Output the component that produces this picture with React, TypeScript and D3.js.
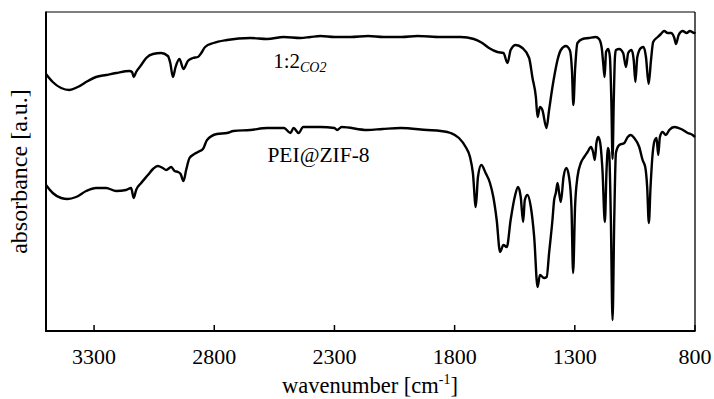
import { useEffect } from 'react'
import * as d3 from 'd3'

// spectrum 1:2 CO2 (upper trace): wavenumber [cm-1] / absorbance [a.u.]
const co2Wn = [3500, 3472, 3437, 3403, 3368, 3326, 3292, 3250, 3208, 3153, 3142, 3135, 3125, 3104, 3083, 3055, 3021, 2993, 2983, 2972, 2961, 2945, 2928, 2910, 2889, 2868, 2854, 2838, 2803, 2747, 2650, 2580, 2511, 2442, 2400, 2358, 2300, 2233, 2160, 2096, 2020, 1955, 1858, 1775, 1720, 1685, 1657, 1622, 1597, 1580, 1567, 1546, 1518, 1490, 1476, 1462, 1455, 1445, 1435, 1418, 1407, 1393, 1383, 1372, 1358, 1337, 1321, 1312, 1306, 1299, 1289, 1268, 1241, 1213, 1199, 1188, 1182, 1176, 1170, 1161, 1154, 1148, 1143, 1138, 1133, 1129, 1115, 1099, 1087, 1078, 1064, 1055, 1048, 1040, 1025, 1014, 1004, 993, 983, 974, 955, 942, 928, 914, 900, 886, 879, 868, 851, 835, 821, 803, 800]
const co2Abs = [257, 249, 243, 241, 244, 250, 254, 256, 258, 260, 259, 254, 259, 266, 273, 277, 278, 275, 268, 254, 264, 272, 262, 270, 273, 274, 278, 284, 288, 291, 293, 292, 294, 293, 294, 295, 294, 294, 295, 294, 294, 295, 294, 294, 292, 288, 283, 279, 278, 268, 281, 286, 283, 273, 253, 234, 214, 224, 221, 203, 221, 244, 258, 271, 281, 285, 281, 261, 226, 261, 288, 292, 293, 294, 292, 283, 268, 254, 279, 282, 274, 230, 172, 230, 274, 281, 282, 278, 264, 278, 281, 271, 249, 274, 283, 284, 274, 247, 271, 289, 294, 297, 300, 298, 298, 293, 287, 296, 300, 298, 300, 298, 299]

// spectrum PEI@ZIF-8 (lower trace)
const zifWn = [3500, 3472, 3437, 3410, 3375, 3333, 3292, 3250, 3208, 3167, 3146, 3135, 3125, 3104, 3076, 3055, 3035, 3014, 3000, 2979, 2965, 2951, 2940, 2928, 2917, 2903, 2889, 2868, 2847, 2830, 2789, 2747, 2720, 2650, 2580, 2510, 2483, 2470, 2449, 2430, 2358, 2300, 2289, 2270, 2164, 2100, 2025, 1914, 1858, 1817, 1782, 1754, 1736, 1724, 1712, 1703, 1689, 1671, 1653, 1639, 1625, 1611, 1597, 1583, 1567, 1550, 1536, 1525, 1515, 1508, 1497, 1483, 1469, 1455, 1445, 1428, 1417, 1407, 1393, 1386, 1379, 1372, 1365, 1358, 1347, 1335, 1324, 1314, 1307, 1299, 1289, 1275, 1261, 1247, 1233, 1224, 1217, 1210, 1203, 1195, 1185, 1175, 1168, 1162, 1157, 1150, 1143, 1136, 1129, 1115, 1094, 1080, 1067, 1053, 1032, 1018, 1007, 999, 992, 985, 976, 967, 960, 953, 946, 935, 921, 907, 886, 858, 830, 810, 800]
const zifAbs = [146, 138, 133, 132, 134, 140, 143, 143, 140, 141, 143, 133, 141, 148, 156, 162, 165, 163, 161, 164, 160, 159, 157, 150, 161, 173, 176, 179, 182, 191, 197, 198, 200, 201, 203, 203, 198, 203, 198, 204, 204, 203, 201, 204, 201, 202, 203, 201, 200, 198, 193, 184, 174, 158, 124, 154, 166, 158, 148, 134, 111, 79, 86, 84, 111, 134, 144, 134, 109, 131, 136, 124, 94, 44, 56, 53, 54, 78, 111, 131, 138, 148, 138, 129, 154, 163, 154, 124, 58, 124, 154, 168, 174, 179, 184, 179, 171, 188, 194, 189, 161, 109, 161, 183, 178, 111, 11, 111, 178, 186, 188, 194, 196, 193, 184, 171, 164, 144, 108, 144, 178, 191, 193, 176, 194, 199, 196, 201, 204, 202, 198, 196, 194]

const xTicks = [3300, 2800, 2300, 1800, 1300, 800]

const W = 714
const H = 399
const margin = { top: 12, right: 19, bottom: 68, left: 46 }
const font = "'Liberation Serif', 'Times New Roman', 'DejaVu Serif', serif"

export default function App() {
  useEffect(() => {
    document.body.style.margin = '0'
  }, [])

  const x = d3.scaleLinear().domain([3500, 800]).range([margin.left, W - margin.right])
  const y = d3.scaleLinear().domain([0, 319]).range([H - margin.bottom, margin.top])

  const line = d3.line<[number, number]>()
    .x(d => x(d[0]))
    .y(d => y(d[1]))
    .curve(d3.curveMonotoneX)

  const co2 = co2Wn.map((w, i) => [w, co2Abs[i]] as [number, number])
  const zif = zifWn.map((w, i) => [w, zifAbs[i]] as [number, number])

  const x0 = margin.left
  const x1 = W - margin.right
  const y0 = margin.top
  const y1 = H - margin.bottom

  return (
    <svg width={W} height={H} style={{ display: 'block', background: '#fff', fontFamily: font }}>
      <path d={line(co2) || ''} fill="none" stroke="#000" strokeWidth={2.4} strokeLinejoin="round" />
      <path d={line(zif) || ''} fill="none" stroke="#000" strokeWidth={2.4} strokeLinejoin="round" />

      {/* frame */}
      <line x1={x0} y1={y0} x2={x1} y2={y0} stroke="#000" strokeWidth={1.2} />
      <line x1={x1} y1={y0} x2={x1} y2={y1} stroke="#000" strokeWidth={1.3} />
      <line x1={x0} y1={y0 - 0.6} x2={x0} y2={y1} stroke="#000" strokeWidth={2} />
      <line x1={x0 - 1} y1={y1} x2={x1 + 0.6} y2={y1} stroke="#000" strokeWidth={2} />

      {xTicks.map(t => (
        <g key={t}>
          <line x1={x(t)} x2={x(t)} y1={y1} y2={y1 - 6} stroke="#000" strokeWidth={1.5} />
          <text x={x(t)} y={364} textAnchor="middle" style={{ fontFamily: font, fontSize: 22 }}>{t}</text>
        </g>
      ))}

      <text x={370} y={393} textAnchor="middle" style={{ fontFamily: font, fontSize: 22.5 }}>
        wavenumber [cm<tspan dy={-9} style={{ fontSize: 14 }}>-1</tspan><tspan dy={9}>]</tspan>
      </text>
      <text transform={`translate(27,${(y0 + y1) / 2}) rotate(-90)`} textAnchor="middle" style={{ fontFamily: font, fontSize: 24 }}>
        absorbance [a.u.]
      </text>

      <text x={x(2555)} y={y(263)} style={{ fontFamily: font, fontSize: 21 }}>
        1:2<tspan dy={4} style={{ fontSize: 14, fontStyle: 'italic' }}>CO2</tspan>
      </text>
      <text x={x(2579)} y={y(169)} style={{ fontFamily: font, fontSize: 21.5 }}>PEI@ZIF-8</text>
    </svg>
  )
}
